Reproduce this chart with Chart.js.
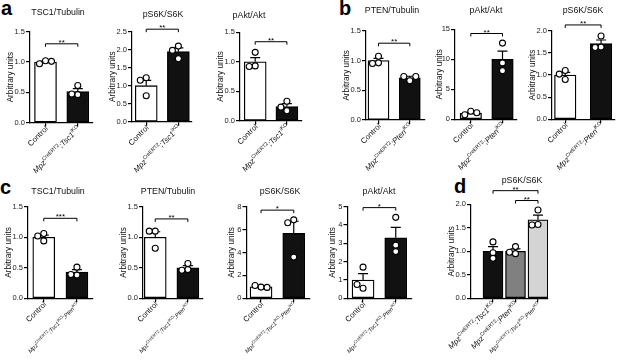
<!DOCTYPE html>
<html lang="en">
<head>
<meta charset="UTF-8" />
<title>Western blot quantification</title>
<script src="https://cdn.jsdelivr.net/npm/chart.js@4.4.0/dist/chart.umd.min.js"></script>
<style>
  body { margin: 0; background: #fff; width: 617px; height: 361px; overflow: hidden; position: relative; font-family: "Liberation Sans", Arial, sans-serif; }
  canvas { position: absolute; }
  .panel { position: absolute; font-weight: bold; font-size: 20px; line-height: 1; color: #000; }
</style>
</head>
<body>
<div class="panel" style="left:1px;top:-2px">a</div>
<div class="panel" style="left:339px;top:-2px">b</div>
<div class="panel" style="left:0px;top:177px">c</div>
<div class="panel" style="left:454px;top:176px">d</div>

<script>
// group labels (^{..} = superscript)
const ctrl = 'Control';
const tscMut = 'Mpz^{CreERT2};Tsc1^{iKO}';
const ptenMut = 'Mpz^{CreERT2};Pten^{iKO}';
const dblMut = 'Mpz^{CreERT2};Tsc1^{iKO};Pten^{iKO}';

// a
const a1Means = [1.0, 0.51];
const a1Sems = [0.015, 0.05];
const a1Points = [[1.02, 0.97, 1.01], [0.61, 0.46, 0.47]];
const a2Means = [1.0, 1.95];
const a2Sems = [0.15, 0.1];
const a2Points = [[0.72, 1.22, 1.15], [1.75, 2.1, 1.98]];
const a3Means = [1.0, 0.24];
const a3Sems = [0.07, 0.05];
const a3Points = [[1.16, 0.93, 0.92], [0.33, 0.17, 0.23]];

// b
const b1Means = [1.0, 0.71];
const b1Sems = [0.035, 0.025];
const b1Points = [[1.07, 0.96, 0.95], [0.66, 0.73, 0.73]];
const b2Means = [1.0, 10.0];
const b2Sems = [0.15, 1.35];
const b2Points = [[1.35, 0.75, 1.1], [12.7, 9.4, 8.1]];
const b3Means = [1.0, 1.71];
const b3Sems = [0.06, 0.08];
const b3Points = [[1.1, 0.9, 1.02], [1.88, 1.63, 1.62]];

// c
const c1Means = [1.0, 0.43];
const c1Sems = [0.035, 0.04];
const c1Points = [[1.06, 0.94, 1.02], [0.51, 0.38, 0.39]];
const c2Means = [1.0, 0.5];
const c2Sems = [0.09, 0.035];
const c2Points = [[0.82, 1.1, 1.1], [0.57, 0.47, 0.46]];
const c3Means = [1.0, 5.68];
const c3Sems = [0.05, 1.05];
const c3Points = [[0.98, 1.12, 0.95], [3.6, 6.85, 6.6]];
const c4Means = [1.0, 3.3];
const c4Sems = [0.35, 0.57];
const c4Points = [[1.7, 0.55, 0.75], [4.42, 2.9, 2.55]];

// d
const dLabels = [tscMut, ptenMut, dblMut];
const dMeans = [1.0, 1.0, 1.67];
const dSems = [0.1, 0.05, 0.1];
const dPoints = [[1.2, 0.97, 0.85], [1.1, 0.95, 0.98], [1.88, 1.57, 1.56]];

// significance brackets: [from, to, level, stars]
const a1Sig = [[0, 1, 1.3, '**']];
const a2Sig = [[0, 1, 2.57, '**']];
const a3Sig = [[0, 1, 1.34, '**']];
const b1Sig = [[0, 1, 1.29, '**']];
const b2Sig = [[0, 1, 14.3, '**']];
const b3Sig = [[0, 1, 2.13, '**']];
const c1Sig = [[0, 1, 1.31, '***']];
const c2Sig = [[0, 1, 1.3, '**']];
const c3Sig = [[0, 1, 7.7, '*']];
const c4Sig = [[0, 1, 4.95, '*']];
const dSig = [[0, 2, 2.29, '**'], [1, 2, 2.08, '**']];

const FONT = '"Liberation Sans", Arial, sans-serif';
Chart.defaults.font.family = FONT;
Chart.defaults.color = '#111';

function parseLabel(s) {
  const re = /\^\{([^}]*)\}/g;
  const parts = [];
  let last = 0, m;
  while ((m = re.exec(s))) {
    if (m.index > last) parts.push({ t: s.slice(last, m.index), sup: false });
    parts.push({ t: m[1], sup: true });
    last = m.index + m[0].length;
  }
  if (last < s.length) parts.push({ t: s.slice(last), sup: false });
  return parts;
}

function drawLabel(ctx, text, x, y) {
  const parts = parseLabel(text);
  // the three-allele label is set smaller, as in the figure
  const small = parts.length > 4;
  const size = small ? 5.8 : 7.8;
  const base = (text === ctrl ? '' : 'italic ') + size + 'px ' + FONT;
  const sup = (small ? 4.2 : 5.2) + 'px ' + FONT;
  const lift = small ? -2 : -2.7;
  let w = 0;
  parts.forEach(p => { ctx.font = p.sup ? sup : base; p.w = ctx.measureText(p.t).width; w += p.w; });
  ctx.save();
  ctx.translate(x, y);
  ctx.rotate(-Math.PI / 4);
  ctx.textBaseline = 'middle';
  ctx.textAlign = 'left';
  ctx.fillStyle = '#111';
  let cx = -w;
  parts.forEach(p => { ctx.font = p.sup ? sup : base; ctx.fillText(p.t, cx, p.sup ? lift : 0); cx += p.w; });
  ctx.restore();
}

// spread overlapping points sideways, Prism style
function spread(vals, center, sx, sy) {
  const placed = [];
  return vals.map(v => {
    for (const k of [0, -1, 1, -2, 2]) {
      const dx = k * 6;
      if (placed.every(p => Math.hypot(p.dx - dx, (p.v - v) * sy) > 5.5)) {
        placed.push({ dx, v });
        return { x: center + dx / sx, y: v };
      }
    }
    return { x: center, y: v };
  });
}

function build(cfg) {
  const { L, R, T, B, W, c1, s, bw, tx, ty } = cfg.box;
  const cLeft = Math.round(L - W);
  const cTop = Math.floor(Math.min(ty - 10, T - 24));
  const cW = Math.ceil(R - cLeft + 6);
  const cH = Math.ceil(B - cTop + 75);
  const xmin = 1 - (c1 - L) / s;
  const xmax = xmin + (R - L) / s;
  const sy = (B - T) / cfg.max;

  const canvas = document.createElement('canvas');
  canvas.width = cW;
  canvas.height = cH;
  canvas.style.left = cLeft + 'px';
  canvas.style.top = cTop + 'px';
  document.body.appendChild(canvas);

  const pts = [];
  cfg.points.forEach((vals, i) => pts.push(...spread(vals, i + 1, s, sy)));

  const axisLine = { color: '#000', width: 1.2 };
  const tickGrid = { display: true, drawOnChartArea: false, drawTicks: true, tickLength: 4, color: '#000', lineWidth: 1.2, offset: false };

  const extras = {
    id: 'extras',
    afterDatasetDraw(chart, args) {
      if (args.index !== 0) return;
      const { ctx, scales: { x, y } } = chart;
      ctx.save();
      ctx.strokeStyle = '#000';
      ctx.lineWidth = 1.2;
      cfg.means.forEach((m, i) => {
        const px = x.getPixelForValue(i + 1);
        const y0 = y.getPixelForValue(m);
        const y1 = y.getPixelForValue(m + cfg.sems[i]);
        ctx.beginPath();
        ctx.moveTo(px, y0); ctx.lineTo(px, y1);
        ctx.moveTo(px - 5, y1); ctx.lineTo(px + 5, y1);
        ctx.stroke();
      });
      ctx.restore();
    },
    afterDraw(chart) {
      const { ctx, scales: { x, y }, chartArea } = chart;
      ctx.save();
      // x labels
      cfg.labels.forEach((lab, i) => drawLabel(ctx, lab, x.getPixelForValue(i + 1) + 1.5, chartArea.bottom + 5));
      // brackets
      ctx.strokeStyle = '#000';
      ctx.lineWidth = 1;
      ctx.fillStyle = '#000';
      ctx.font = '8px ' + FONT;
      ctx.textAlign = 'center';
      ctx.textBaseline = 'alphabetic';
      cfg.sig.forEach(([a, b, lvl, txt]) => {
        const xa = x.getPixelForValue(a + 1), xb = x.getPixelForValue(b + 1);
        const yy = y.getPixelForValue(lvl);
        ctx.beginPath();
        ctx.moveTo(xa, yy + 3); ctx.lineTo(xa, yy); ctx.lineTo(xb, yy); ctx.lineTo(xb, yy + 3);
        ctx.stroke();
        ctx.fillText(txt, (xa + xb) / 2, yy + 1);
      });
      // title
      ctx.font = '8.8px ' + FONT;
      ctx.fillStyle = '#111';
      ctx.textBaseline = 'middle';
      ctx.fillText(cfg.title, tx - cLeft, ty - cTop);
      ctx.restore();
    }
  };

  new Chart(canvas, {
    type: 'bar',
    data: {
      datasets: [
        {
          type: 'bar',
          data: cfg.means.map((m, i) => ({ x: i + 1, y: m })),
          backgroundColor: cfg.colors,
          borderColor: '#000',
          borderWidth: 1.3,
          borderSkipped: false,
          barThickness: bw,
          order: 2
        },
        {
          type: 'scatter',
          data: pts,
          pointRadius: 3,
          pointBackgroundColor: '#fff',
          pointBorderColor: '#000',
          pointBorderWidth: 1.1,
          clip: false,
          order: 1
        }
      ]
    },
    options: {
      responsive: false,
      animation: false,
      devicePixelRatio: 1,
      layout: { padding: { left: 0, top: T - cTop, right: cW - (R - cLeft), bottom: cH - (B - cTop) - 4 } },
      plugins: { legend: { display: false }, tooltip: { enabled: false } },
      scales: {
        x: {
          type: 'linear', min: xmin, max: xmax, offset: false,
          afterBuildTicks: sc => { sc.ticks = cfg.labels.map((_, i) => ({ value: i + 1 })); },
          afterFit: sc => { sc.height = 4; },
          ticks: { display: false },
          grid: tickGrid,
          border: axisLine
        },
        y: {
          min: 0, max: cfg.max,
          afterFit: sc => { sc.width = W; },
          ticks: {
            stepSize: cfg.step, autoSkip: false, padding: 1, color: '#222',
            font: { size: 7.5 },
            callback: v => (cfg.step < 1 ? v.toFixed(1) : String(v))
          },
          grid: tickGrid,
          border: axisLine,
          title: { display: true, text: 'Arbitrary units', font: { size: 8.2 }, padding: 0, color: '#111' }
        }
      }
    },
    plugins: [extras]
  });
}

const twoCols = ['#ffffff', '#111111'];
const twoCtrlTsc = [ctrl, tscMut];
const twoCtrlPten = [ctrl, ptenMut];
const twoCtrlDbl = [ctrl, dblMut];

build({ title: 'TSC1/Tubulin', labels: twoCtrlTsc, means: a1Means, sems: a1Sems, points: a1Points, sig: a1Sig, max: 1.5, step: 0.5, colors: twoCols,
  box: { L: 30, R: 93, T: 31.7, B: 122.5, W: 24, c1: 45.5, s: 32.3, bw: 22, tx: 58, ty: 13 } });
build({ title: 'pS6K/S6K', labels: twoCtrlTsc, means: a2Means, sems: a2Sems, points: a2Points, sig: a2Sig, max: 2.5, step: 0.5, colors: twoCols,
  box: { L: 131.7, R: 191.7, T: 31.7, B: 121.7, W: 24, c1: 146, s: 32.3, bw: 22, tx: 163, ty: 15 } });
build({ title: 'pAkt/Akt', labels: twoCtrlTsc, means: a3Means, sems: a3Sems, points: a3Points, sig: a3Sig, max: 1.5, step: 0.5, colors: twoCols,
  box: { L: 240, R: 301.7, T: 32.3, B: 120.7, W: 24, c1: 255.2, s: 31.7, bw: 22, tx: 249, ty: 16 } });

build({ title: 'PTEN/Tubulin', labels: twoCtrlPten, means: b1Means, sems: b1Sems, points: b1Points, sig: b1Sig, max: 1.5, step: 0.5, colors: twoCols,
  box: { L: 366, R: 425, T: 30.7, B: 120, W: 24, c1: 378.5, s: 31.3, bw: 21, tx: 392, ty: 11 } });
build({ title: 'pAkt/Akt', labels: twoCtrlPten, means: b2Means, sems: b2Sems, points: b2Points, sig: b2Sig, max: 15, step: 5, colors: twoCols,
  box: { L: 455, R: 517, T: 29.3, B: 119.3, W: 20, c1: 470.8, s: 31.7, bw: 21.5, tx: 486, ty: 11 } });
build({ title: 'pS6K/S6K', labels: twoCtrlPten, means: b3Means, sems: b3Sems, points: b3Points, sig: b3Sig, max: 2.0, step: 0.5, colors: twoCols,
  box: { L: 551.7, R: 615, T: 30.7, B: 119.3, W: 24, c1: 565, s: 36, bw: 21.5, tx: 583, ty: 11 } });

build({ title: 'TSC1/Tubulin', labels: twoCtrlDbl, means: c1Means, sems: c1Sems, points: c1Points, sig: c1Sig, max: 1.5, step: 0.5, colors: twoCols,
  box: { L: 28.3, R: 92.7, T: 206.7, B: 298.3, W: 24, c1: 44, s: 33, bw: 22, tx: 58, ty: 192 } });
build({ title: 'PTEN/Tubulin', labels: twoCtrlDbl, means: c2Means, sems: c2Sems, points: c2Points, sig: c2Sig, max: 1.5, step: 0.5, colors: twoCols,
  box: { L: 142.7, R: 202.7, T: 206.7, B: 298.3, W: 24, c1: 155, s: 32.8, bw: 22, tx: 168, ty: 192 } });
build({ title: 'pS6K/S6K', labels: twoCtrlDbl, means: c3Means, sems: c3Sems, points: c3Points, sig: c3Sig, max: 8, step: 2, colors: twoCols,
  box: { L: 246.7, R: 309.3, T: 206.7, B: 298.3, W: 19.5, c1: 261.2, s: 32.6, bw: 22, tx: 280, ty: 192 } });
build({ title: 'pAkt/Akt', labels: twoCtrlDbl, means: c4Means, sems: c4Sems, points: c4Points, sig: c4Sig, max: 5, step: 1, colors: twoCols,
  box: { L: 347.7, R: 411.7, T: 206.7, B: 298.3, W: 19.5, c1: 363.2, s: 32.6, bw: 22, tx: 379, ty: 192 } });

build({ title: 'pS6K/S6K', labels: dLabels, means: dMeans, sems: dSems, points: dPoints, sig: dSig, max: 2.0, step: 0.5, colors: ['#111111', '#808080', '#d4d4d4'],
  box: { L: 471, R: 548, T: 204.3, B: 298.3, W: 24, c1: 493, s: 22.5, bw: 20, tx: 522, ty: 181 } });
</script>
</body>
</html>
